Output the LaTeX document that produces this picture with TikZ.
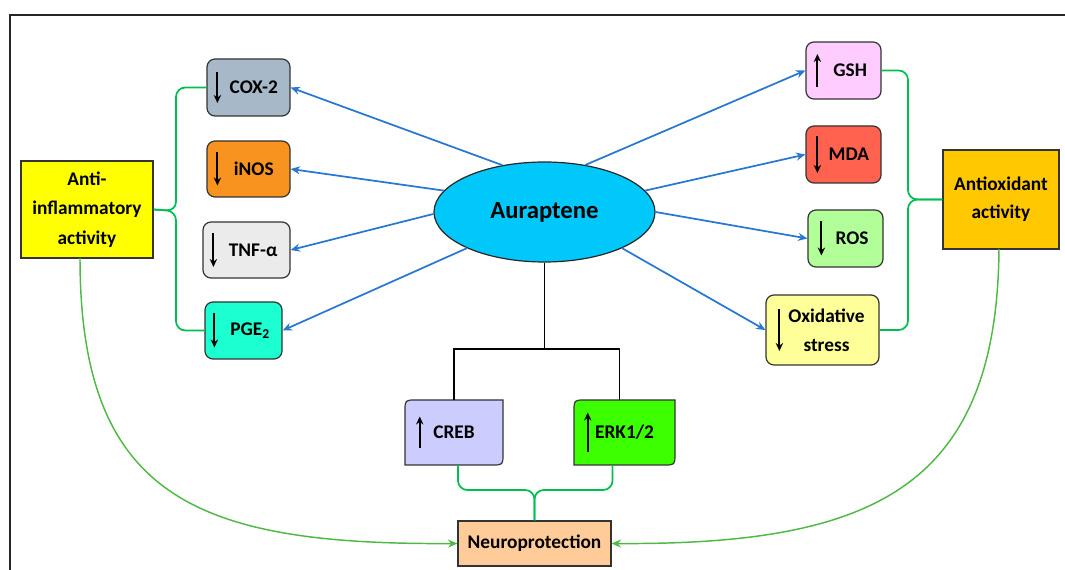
\documentclass[tikz,border=0pt]{standalone}
\usepackage{fontspec}
\setmainfont{Carlito}
\usepackage{tikz}
\usetikzlibrary{arrows.meta,shapes.geometric}

\definecolor{coxfill}{RGB}{167,185,201}
\definecolor{inosfill}{RGB}{247,147,30}
\definecolor{tnffill}{RGB}{235,235,235}
\definecolor{pgefill}{RGB}{28,255,208}
\definecolor{antifill}{RGB}{255,255,0}
\definecolor{aurafill}{RGB}{0,200,250}
\definecolor{gshfill}{RGB}{255,204,255}
\definecolor{mdafill}{RGB}{255,99,80}
\definecolor{rosfill}{RGB}{178,255,153}
\definecolor{oxifill}{RGB}{255,255,153}
\definecolor{antioxfill}{RGB}{255,200,0}
\definecolor{crebfill}{RGB}{204,204,255}
\definecolor{erkfill}{RGB}{60,255,0}
\definecolor{neurofill}{RGB}{255,204,153}
\definecolor{effectblue}{RGB}{40,120,210}
\definecolor{bracegreen}{RGB}{0,190,80}
\definecolor{curvegreen}{RGB}{80,185,70}

\tikzset{
  marker/.style={draw=black!80, line width=0.9pt, rounded corners=6pt, font=\fontsize{14.5}{22}\selectfont\bfseries, inner sep=0pt, align=center},
  activity/.style={draw=black!80, line width=0.9pt, font=\fontsize{14.5}{22}\selectfont\bfseries, inner sep=0pt, align=center},
  effect/.style={draw=effectblue, line width=1.3pt, -{Stealth[length=7pt,width=6pt]}},
  brace/.style={draw=bracegreen, line width=1.3pt, rounded corners=7pt},
  outcome/.style={draw=curvegreen, line width=1.1pt, -{Stealth[length=7pt,width=6pt]}},
  level/.style={line width=1.5pt, -{Stealth[length=6pt,width=5.5pt]}},
}
% down / up arrow inside a box: node, xshift, length
\newcommand{\decrease}[3]{\draw[level] ([xshift=#2]#1.west) ++(0,-#3/2) -- ++(0,#3);}
\newcommand{\increase}[3]{\draw[level] ([xshift=#2]#1.west) ++(0,#3/2) -- ++(0,-#3);}

\begin{document}
\begin{tikzpicture}[x=0.75pt,y=0.75pt,yscale=-1,xscale=1]
\useasboundingbox (0,0) rectangle (1065,570);

%Frame
\draw [line width=1.5pt, black!85] (10,570) -- (10,15) -- (1065,15) ;

%Centre
\node [ellipse, draw=black!85, line width=0.9pt, fill=aurafill, minimum width=165.75pt, minimum height=75pt, inner sep=0pt, font=\fontsize{18.5}{20}\selectfont\bfseries] (aura) at (544.5,212) {Auraptene};

%Left markers
\node [marker, fill=coxfill, minimum width=62.25pt, minimum height=42.75pt] (cox) at (248.5,87.5) {\hspace*{8pt}COX-2};
\node [marker, fill=inosfill, minimum width=62.25pt, minimum height=42pt] (inos) at (248.5,169) {\hspace*{8pt}iNOS};
\node [marker, fill=tnffill, minimum width=65.25pt, minimum height=42pt] (tnf) at (246.5,250) {\hspace*{10pt}TNF-α};
\node [marker, fill=pgefill, minimum width=57.75pt, minimum height=42.75pt] (pge) at (243.5,330.5) {\hspace*{10pt}PGE\textsubscript{2}};
\node [activity, fill=antifill, minimum width=99pt, minimum height=72.75pt] (anti) at (87,209.5) {Anti-\\inflammatory\\activity};

%Right markers
\node [marker, fill=gshfill, minimum width=56.25pt, minimum height=42.75pt] (gsh) at (843.5,70.5) {\hspace*{10pt}GSH};
\node [marker, fill=mdafill, minimum width=56.25pt, minimum height=42.75pt] (mda) at (843.5,154.5) {\hspace*{8pt}MDA};
\node [marker, fill=rosfill, minimum width=56.25pt, minimum height=42.75pt] (ros) at (845.5,238.5) {\hspace*{10pt}ROS};
\node [marker, fill=oxifill, minimum width=84.75pt, minimum height=52.5pt] (oxi) at (822.5,330) {\hspace*{6pt}Oxidative\\\hspace*{6pt}stress};
\node [activity, fill=antioxfill, minimum width=87pt, minimum height=74.25pt, font=\fontsize{14.5}{21}\selectfont\bfseries] (antiox) at (1001,199.5) {Antioxidant\\activity};

%Lower markers
\draw [draw=black!80, line width=0.9pt, fill=crebfill] (405,465) -- (405,411) .. controls (405,400) .. (416,400) -- (503,400) -- (503,454) .. controls (503,465) .. (492,465) -- cycle ;
\draw [draw=black!80, line width=0.9pt, fill=erkfill] (574,465) -- (574,411) .. controls (574,400) .. (585,400) -- (675,400) -- (675,454) .. controls (675,465) .. (664,465) -- cycle ;
\node [font=\fontsize{14.5}{17}\selectfont\bfseries, minimum width=73.5pt, minimum height=48.75pt, inner sep=0pt] (creb) at (454,432.5) {CREB};
\node [font=\fontsize{14.5}{17}\selectfont\bfseries, minimum width=75.75pt, minimum height=48.75pt, inner sep=0pt] (erk) at (624.5,432.5) {ERK1/2};
\node [activity, fill=neurofill, minimum width=114.75pt, minimum height=33.75pt] (neuro) at (534.5,543.5) {Neuroprotection};

%Up and down marks
\decrease{cox}{8.25pt}{31}
\decrease{inos}{8.25pt}{33}
\decrease{tnf}{8.25pt}{34}
\decrease{pge}{7.5pt}{34}
\increase{gsh}{9pt}{33}
\decrease{mda}{9pt}{37}
\decrease{ros}{10.5pt}{34}
\decrease{oxi}{10.5pt}{42}
\increase{creb}{11.25pt}{32}
\increase{erk}{10.5pt}{40}

%Effects of auraptene
\draw [effect] (aura.132) -- (cox.east) ;
\draw [effect] (aura.168) -- (inos.east) ;
\draw [effect] (aura.181) -- (tnf.east) ;
\draw [effect] (aura.205) -- (pge.east) ;
\draw [effect] (aura.49) -- (gsh.west) ;
\draw [effect] (aura.12) -- (mda.west) ;
\draw [effect] (aura.0) -- (ros.west) ;
\draw [effect] (aura.335) -- (oxi.west) ;

%Signalling tree
\coordinate (split) at (544.5,349) ;
\draw [line width=0.8pt] (aura.south) -- (split) ;
\draw [line width=0.8pt] (creb.north) |- (split) -| ([xshift=-4pt]erk.north) ;

%Braces
\draw [brace] (cox.west) -| (176,211) -- (anti.east) ;
\draw [brace] (pge.west) -| (176,211) -- (anti.east) ;
\draw [brace] (gsh.east) -| (908,199.5) -- (antiox.west) ;
\draw [brace] (oxi.east) -| (908,199.5) -- (antiox.west) ;
\draw [brace] ([xshift=3pt]creb.south) |- (534.5,490) -- (neuro.north) ;
\draw [brace] ([xshift=-9pt]erk.south) |- (534.5,490) -- (neuro.north) ;

%Towards neuroprotection
\draw [outcome] (80,258) .. controls (80,500) and (200,545) .. (neuro.west) ;
\draw [outcome] (999,249) .. controls (997,490) and (870,545) .. (neuro.east) ;

\end{tikzpicture}
\end{document}
